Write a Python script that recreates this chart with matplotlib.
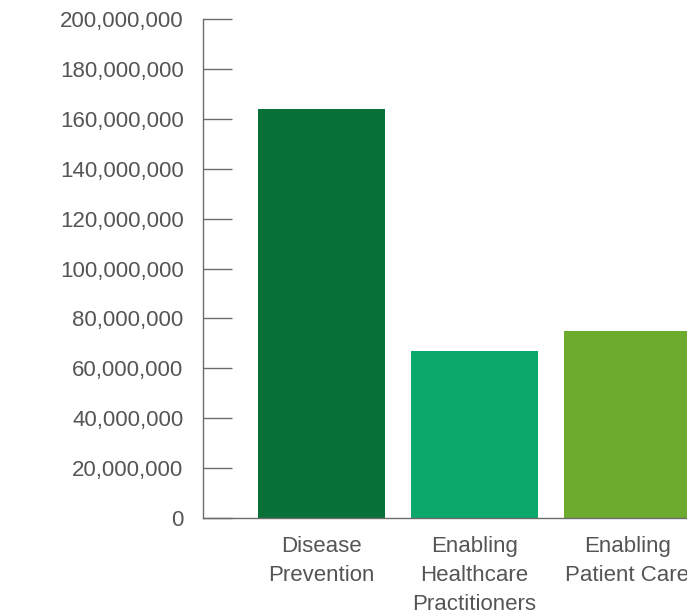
import matplotlib.pyplot as plt
from matplotlib.ticker import FuncFormatter

# Datos
categorias = ['Disease\nPrevention', 'Enabling\nHealthcare\nPractitioners', 'Enabling\nPatient Care']
valores = [164000000, 67000000, 75000000]
colores = ['#087137', '#0aa86a', '#6dab2f']

plt.rcParams['font.family'] = ['Liberation Sans', 'DejaVu Sans']

fig = plt.figure(figsize=(6.87, 6.15), dpi=100)
ax = fig.add_axes([0.2955, 0.1577, 0.790, 0.8114])

ax.bar(range(len(categorias)), valores, width=0.83, color=colores)

ax.set_xlim(-0.775, 2.775)
ax.set_ylim(0, 200000000)
ax.set_yticks(range(0, 200000001, 20000000))
ax.yaxis.set_major_formatter(FuncFormatter(lambda v, p: '{:,.0f}'.format(v)))
ax.set_xticks(range(len(categorias)))
ax.set_xticklabels(categorias, linespacing=1.5)

for s in ['top', 'right']:
    ax.spines[s].set_visible(False)
for s in ['left', 'bottom']:
    ax.spines[s].set_color('#6b6b6b')
    ax.spines[s].set_linewidth(1.0)

ax.tick_params(axis='y', direction='in', length=21, width=1.0, color='#6b6b6b',
               labelsize=16, labelcolor='#555555', pad=14)
ax.tick_params(axis='x', length=0, labelsize=16, labelcolor='#555555', pad=13)

plt.savefig('out.png', dpi=100)
